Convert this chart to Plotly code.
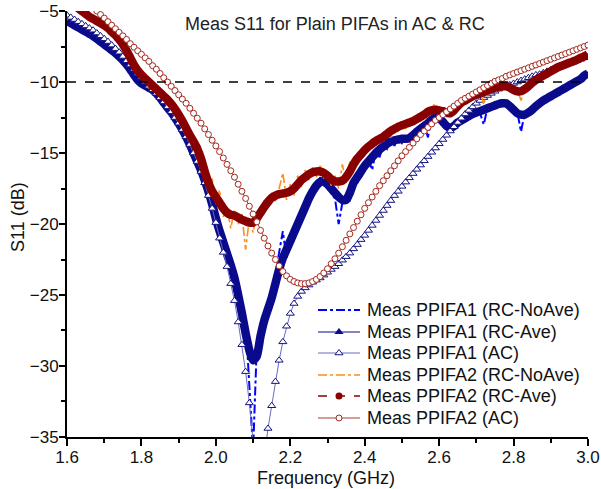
import numpy as np
import plotly.graph_objects as go

freq = np.round(np.linspace(1.6, 3.0, 141), 2)

ppifa1_rc_ave = [
    -5.7, -5.85, -6.0, -6.15, -6.3, -6.45, -6.6, -6.75, -6.95, -7.15,
    -7.35, -7.55, -7.75, -7.95, -8.2, -8.45, -8.75, -9.1, -9.5, -9.85,
    -10.1, -10.25, -10.4, -10.55, -10.8, -11.1, -11.45, -11.8, -12.1, -12.5,
    -12.9, -13.35, -13.85, -14.4, -15.0, -15.6, -16.2, -16.9, -17.7, -18.6,
    -19.6, -20.5, -21.3, -22.1, -22.9, -23.8, -25.0, -26.3, -27.7, -28.9,
    -29.6, -29.3, -27.9, -26.8, -26.0, -25.2, -24.2, -23.2, -22.4, -21.8,
    -21.2, -20.6, -20.0, -19.4, -18.8, -18.2, -17.7, -17.3, -17.05, -17.0,
    -17.2, -17.5, -17.8, -18.1, -18.3, -18.3, -17.8, -17.1, -16.7, -16.3,
    -15.9, -15.6, -15.3, -15.0, -14.75, -14.55, -14.35, -14.2, -14.1, -14.05,
    -14.0, -14.0, -13.95, -13.75, -13.5, -13.3, -13.1, -12.9, -12.65, -12.5,
    -12.55, -12.8, -13.1, -13.25, -13.1, -12.85, -12.7, -12.55, -12.4, -12.25,
    -12.15, -12.05, -11.95, -11.85, -11.75, -11.65, -11.55, -11.5, -11.5, -11.7,
    -11.95, -12.2, -12.3, -12.3, -12.15, -11.95, -11.7, -11.5, -11.3, -11.15,
    -11.0, -10.85, -10.7, -10.55, -10.4, -10.25, -10.1, -9.95, -9.8, -9.55,
    -9.4,
]

ppifa1_rc_noave = [
    -5.7, -5.8, -6.0, -6.2, -6.3, -6.5, -6.6, -6.8, -6.9, -7.2,
    -7.3, -7.6, -7.7, -8.0, -8.2, -8.5, -8.7, -9.2, -9.7, -10.1,
    -10.0, -10.4, -10.3, -10.7, -10.7, -11.2, -11.4, -11.9, -12.0, -12.6,
    -12.8, -13.4, -13.8, -14.5, -14.9, -15.7, -16.1, -17.0, -17.5, -18.9,
    -19.2, -21.0, -20.8, -22.6, -22.2, -24.5, -24.4, -27.2, -26.8, -31.5,
    -36.0, -28.6, -27.2, -27.5, -25.4, -25.8, -23.6, -22.0, -20.5, -22.4,
    -20.9, -21.2, -19.6, -19.8, -18.4, -18.6, -17.3, -17.8, -16.7, -17.3,
    -16.9, -17.9, -18.2, -20.0, -18.5, -18.0, -18.4, -16.8, -17.2, -16.0,
    -16.3, -15.4, -16.2, -14.8, -15.3, -14.4, -14.7, -14.0, -14.5, -13.9,
    -14.3, -13.8, -14.2, -13.6, -13.8, -13.2, -13.0, -13.9, -12.5, -12.6,
    -12.4, -12.9, -13.0, -13.4, -13.0, -12.9, -12.6, -12.7, -12.3, -12.4,
    -12.1, -12.2, -13.0, -11.8, -11.8, -11.6, -11.6, -11.4, -11.6, -11.6,
    -12.0, -12.1, -13.5, -12.2, -12.2, -11.9, -11.7, -11.5, -11.3, -11.1,
    -11.0, -10.8, -10.7, -10.5, -10.4, -10.2, -10.1, -9.9, -9.8, -9.5,
    -9.3,
]

ppifa1_ac = [
    -5.3, -5.45, -5.6, -5.75, -5.9, -6.05, -6.2, -6.35, -6.55, -6.75,
    -6.95, -7.15, -7.4, -7.65, -7.9, -8.2, -8.5, -8.8, -9.1, -9.4,
    -9.7, -10.0, -10.3, -10.55, -10.8, -11.1, -11.4, -11.75, -12.1, -12.5,
    -12.9, -13.35, -13.85, -14.4, -15.0, -15.6, -16.3, -17.1, -18.0, -18.9,
    -19.9, -21.0, -22.0, -23.0, -24.2, -25.4, -26.9, -28.5, -30.4, -32.6,
    -35.3, -38.0, -38.5, -36.3, -34.4, -32.8, -31.1, -29.6, -28.3, -27.2,
    -26.3, -25.6, -25.1, -24.75, -24.5, -24.3, -24.1, -23.95, -23.8, -23.6,
    -23.4, -23.2, -23.0, -22.8, -22.55, -22.3, -22.05, -21.75, -21.45, -21.1,
    -20.8, -20.45, -20.1, -19.75, -19.4, -19.05, -18.7, -18.35, -18.0, -17.7,
    -17.35, -17.05, -16.75, -16.45, -16.15, -15.85, -15.55, -15.25, -14.95, -14.65,
    -14.35, -14.05, -13.75, -13.45, -13.15, -12.85, -12.55, -12.25, -12.0, -11.75,
    -11.5, -11.3, -11.1, -10.95, -10.8, -10.65, -10.5, -10.4, -10.3, -10.2,
    -10.1, -10.0, -9.9, -9.8, -9.7, -9.6, -9.5, -9.45, -9.35, -9.25,
    -9.15, -9.05, -8.95, -8.85, -8.75, -8.65, -8.6, -8.5, -8.4, -8.3,
    -8.2,
]

ppifa2_rc_noave = [
    -4.2, -4.4, -4.6, -4.8, -5.0, -5.2, -5.4, -5.55, -5.7, -5.85,
    -6.0, -6.2, -6.45, -6.7, -7.0, -7.35, -7.8, -8.3, -8.8, -9.3,
    -9.8, -9.7, -10.4, -10.2, -10.8, -10.6, -11.3, -11.2, -11.7, -11.9,
    -12.4, -12.7, -13.4, -13.6, -14.4, -14.5, -15.7, -16.0, -17.6, -16.8,
    -18.6, -17.6, -19.5, -18.8, -20.3, -19.0, -20.0, -19.3, -21.8, -19.6,
    -20.6, -19.2, -19.6, -18.3, -18.9, -17.8, -18.4, -17.5, -16.4, -18.3,
    -17.2, -18.0, -16.6, -17.4, -16.2, -16.9, -16.0, -16.7, -15.9, -16.8,
    -16.2, -17.3, -16.6, -17.5, -15.8, -17.1, -15.6, -16.2, -14.9, -15.5,
    -14.5, -14.9, -14.0, -14.5, -13.7, -14.2, -13.4, -13.9, -13.1, -13.5,
    -12.8, -13.3, -12.6, -13.0, -12.4, -12.8, -12.0, -12.4, -11.8, -11.5,
    -12.2, -11.9, -12.4, -12.0, -12.2, -11.5, -11.7, -11.1, -11.3, -10.8,
    -11.1, -10.6, -11.6, -10.5, -10.6, -10.3, -10.5, -10.2, -10.4, -10.3,
    -10.7, -10.5, -11.3, -10.4, -10.4, -9.9, -10.0, -9.6, -9.6, -9.3,
    -9.3, -9.0, -9.0, -8.8, -8.8, -8.6, -8.6, -8.4, -8.3, -8.2,
    -8.0,
]

ppifa2_rc_ave = [
    -4.2, -4.4, -4.6, -4.8, -5.0, -5.2, -5.4, -5.55, -5.7, -5.85,
    -6.0, -6.2, -6.45, -6.7, -7.0, -7.35, -7.8, -8.3, -8.8, -9.2,
    -9.5, -9.75, -10.0, -10.25, -10.5, -10.75, -11.0, -11.25, -11.55, -11.9,
    -12.3, -12.75, -13.25, -13.75, -14.2, -14.7, -15.4, -16.3, -17.1, -17.7,
    -18.1, -18.5, -18.9, -19.2, -19.35, -19.4, -19.55, -19.7, -19.8, -19.9,
    -19.9, -19.6, -19.2, -18.8, -18.45, -18.15, -18.0, -17.9, -17.85, -17.8,
    -17.7, -17.5, -17.2, -16.9, -16.7, -16.5, -16.35, -16.3, -16.3, -16.4,
    -16.6, -16.85, -17.0, -17.0, -16.95, -16.7, -16.3, -15.8, -15.4, -15.1,
    -14.8, -14.55, -14.35, -14.15, -14.0, -13.85, -13.65, -13.45, -13.3, -13.15,
    -13.05, -12.95, -12.85, -12.75, -12.6, -12.45, -12.3, -12.1, -12.0, -11.95,
    -12.0, -12.05, -12.15, -12.2, -12.0, -11.7, -11.45, -11.3, -11.15, -11.0,
    -10.9, -10.8, -10.7, -10.6, -10.5, -10.4, -10.35, -10.3, -10.3, -10.4,
    -10.55, -10.65, -10.65, -10.5, -10.3, -10.05, -9.85, -9.7, -9.55, -9.4,
    -9.25, -9.1, -8.95, -8.85, -8.75, -8.65, -8.55, -8.45, -8.3, -8.2,
    -8.05,
]

ppifa2_ac = [
    -3.0, -3.25, -3.5, -3.75, -4.0, -4.25, -4.5, -4.75, -5.0, -5.25,
    -5.5, -5.75, -6.0, -6.25, -6.5, -6.75, -7.0, -7.3, -7.55, -7.8,
    -8.05, -8.3, -8.55, -8.85, -9.1, -9.4, -9.7, -10.0, -10.3, -10.6,
    -10.9, -11.2, -11.5, -11.85, -12.2, -12.55, -12.9, -13.3, -13.7, -14.1,
    -14.5, -14.9, -15.35, -15.8, -16.25, -16.7, -17.2, -17.7, -18.2, -18.75,
    -19.3, -19.85, -20.45, -21.0, -21.55, -22.05, -22.5, -22.95, -23.35, -23.65,
    -23.9, -24.05, -24.15, -24.2, -24.2, -24.15, -24.05, -23.9, -23.7, -23.45,
    -23.15, -22.8, -22.45, -22.05, -21.6, -21.15, -20.7, -20.25, -19.8, -19.35,
    -18.9, -18.5, -18.1, -17.7, -17.3, -16.95, -16.6, -16.25, -15.9, -15.55,
    -15.2, -14.9, -14.6, -14.3, -14.0, -13.7, -13.45, -13.2, -12.95, -12.7,
    -12.5, -12.3, -12.1, -11.9, -11.7, -11.5, -11.3, -11.15, -11.0, -10.85,
    -10.7, -10.55, -10.4, -10.25, -10.1, -9.95, -9.85, -9.75, -9.6, -9.5,
    -9.4, -9.3, -9.2, -9.1, -9.0, -8.9, -8.8, -8.7, -8.6, -8.5,
    -8.4, -8.3, -8.2, -8.1, -8.0, -7.9, -7.8, -7.7, -7.6, -7.5,
    -7.4,
]

x_ticks = [1.6, 1.8, 2.0, 2.2, 2.4, 2.6, 2.8, 3.0]
x_ticktext = ["1.6", "1.8", "2.0", "2.2", "2.4", "2.6", "2.8", "3.0"]
y_ticks = [-5, -10, -15, -20, -25, -30, -35]
ref_level = -10

title_text = "Meas S11 for Plain PIFAs in AC &amp; RC"
x_title = "Frequency (GHz)"
y_title = "S11 (dB)"
names = ["Meas PPIFA1 (RC-NoAve)", "Meas PPIFA1 (RC-Ave)", "Meas PPIFA1 (AC)",
         "Meas PPIFA2 (RC-NoAve)", "Meas PPIFA2 (RC-Ave)", "Meas PPIFA2 (AC)"]

FONT = "Arial, 'Liberation Sans', sans-serif"
NAVY = "#0a0a8c"
DRED = "#880000"
BLUE = "#0000ff"
ORANGE = "#ff8c1a"
AC1_LINE, AC1_MK = "#6a6ac4", "#141480"
AC2_LINE, AC2_MK = "#b03a30", "#a3281f"

# figure geometry (pixels)
W, H = 601, 489
L, R, T, B = 67, 13, 11, 52
PX0, PX1 = L, W - R
PY0, PY1 = T, H - B


def px_to_paper(px, py):
    return (px - PX0) / (PX1 - PX0), (PY1 - py) / (PY1 - PY0)


fig = go.Figure()

# data traces (drawn in legend order, later on top)
fig.add_trace(go.Scatter(x=freq, y=ppifa1_rc_noave, mode="lines",
                         line=dict(color=BLUE, width=2, dash="dashdot")))
fig.add_trace(go.Scatter(x=freq, y=ppifa1_rc_ave, mode="lines",
                         line=dict(color=NAVY, width=8.5, shape="spline", smoothing=0.6)))
fig.add_trace(go.Scatter(x=freq, y=ppifa1_ac, mode="lines+markers",
                         line=dict(color=AC1_LINE, width=1),
                         marker=dict(symbol="triangle-up", size=7, color="white",
                                     line=dict(color=AC1_MK, width=1))))
fig.add_trace(go.Scatter(x=freq, y=ppifa2_rc_noave, mode="lines",
                         line=dict(color=ORANGE, width=1.6, dash="dashdot")))
fig.add_trace(go.Scatter(x=freq, y=ppifa2_rc_ave, mode="lines",
                         line=dict(color=DRED, width=8.5, shape="spline", smoothing=0.6)))
fig.add_trace(go.Scatter(x=freq, y=ppifa2_ac, mode="lines+markers",
                         line=dict(color=AC2_LINE, width=1),
                         marker=dict(symbol="circle", size=6, color="white",
                                     line=dict(color=AC2_MK, width=1))))

fig.add_shape(type="line", xref="paper", x0=0, x1=1, yref="y", y0=ref_level, y1=ref_level,
              line=dict(color="black", width=1.5, dash="dash"))

# hand-built legend drawn on a pixel-space overlay axis pair
leg_rows = [310, 332, 353, 375, 396, 418]
leg_x0, leg_x1, leg_xt = 318, 360, 365
leg_styles = [
    dict(line=dict(color=BLUE, width=2, dash="dashdot"), marker=None),
    dict(line=dict(color=NAVY, width=1.2), marker=dict(symbol="triangle-up", size=8, color=NAVY)),
    dict(line=dict(color=AC1_LINE, width=1.2),
         marker=dict(symbol="triangle-up", size=7, color="white", line=dict(color=AC1_MK, width=1))),
    dict(line=dict(color=ORANGE, width=1.6, dash="dashdot"), marker=None),
    dict(line=dict(color=DRED, width=1.5, dash="dash"), marker=dict(symbol="circle", size=7, color=DRED)),
    dict(line=dict(color=AC2_LINE, width=1.2),
         marker=dict(symbol="circle", size=6, color="white", line=dict(color=AC2_MK, width=1))),
]
for yrow, st, nm in zip(leg_rows, leg_styles, names):
    fig.add_trace(go.Scatter(x=[leg_x0, leg_x1], y=[yrow, yrow], mode="lines",
                             line=st["line"], xaxis="x2", yaxis="y2", cliponaxis=False))
    if st["marker"] is not None:
        fig.add_trace(go.Scatter(x=[(leg_x0 + leg_x1) / 2], y=[yrow], mode="markers",
                                 marker=st["marker"], xaxis="x2", yaxis="y2", cliponaxis=False))
    fig.add_annotation(text=nm, xref="x2", yref="y2", x=leg_xt, y=yrow, showarrow=False,
                       xanchor="left", yanchor="middle",
                       font=dict(family=FONT, size=18, color="#111"))

tx, ty = px_to_paper(335, 24)
fig.add_annotation(text=title_text, xref="paper", yref="paper", x=tx, y=ty,
                   showarrow=False, font=dict(family=FONT, size=18, color="#222"),
                   xanchor="center", yanchor="middle")
tx, ty = px_to_paper(326, 478)
fig.add_annotation(text=x_title, xref="paper", yref="paper", x=tx, y=ty,
                   showarrow=False, font=dict(family=FONT, size=18, color="#111"),
                   xanchor="center", yanchor="middle")
tx, ty = px_to_paper(18, 217)
fig.add_annotation(text=y_title, xref="paper", yref="paper", x=tx, y=ty, textangle=-90,
                   showarrow=False, font=dict(family=FONT, size=18, color="#111"),
                   xanchor="center", yanchor="middle")

fig.update_layout(
    width=W, height=H,
    margin=dict(l=L, r=R, t=T, b=B),
    paper_bgcolor="white", plot_bgcolor="white",
    font=dict(family=FONT, size=17, color="black"),
    showlegend=False,
    xaxis=dict(range=[1.5999, 3.0001], tickmode="array", tickvals=x_ticks, ticktext=x_ticktext,
               ticks="outside", ticklen=7, tickwidth=1.5, tickcolor="black", automargin=False,
               ticklabelstandoff=-3,
               showline=True, linecolor="black", linewidth=2, showgrid=False, zeroline=False,
               minor=dict(dtick=0.1, tick0=1.6, ticks="outside", ticklen=4, tickwidth=1.5, tickcolor="black"),
               tickfont=dict(family=FONT, size=17, color="#111")),
    yaxis=dict(range=[-35.001, -4.999], tickmode="array", tickvals=y_ticks,
               ticks="outside", ticklen=6, tickwidth=1.5, tickcolor="black", automargin=False,
               ticklabelstandoff=-3,
               showline=True, linecolor="black", linewidth=2, showgrid=False, zeroline=False,
               minor=dict(dtick=2.5, tick0=-35, ticks="outside", ticklen=4, tickwidth=1.5, tickcolor="black"),
               tickfont=dict(family=FONT, size=17, color="#111")),
    xaxis2=dict(overlaying="x", range=[PX0, PX1], visible=False, anchor="y2", automargin=False),
    yaxis2=dict(overlaying="y", range=[PY1, PY0], visible=False, anchor="x2", automargin=False),
)

fig.write_html("out.html")
